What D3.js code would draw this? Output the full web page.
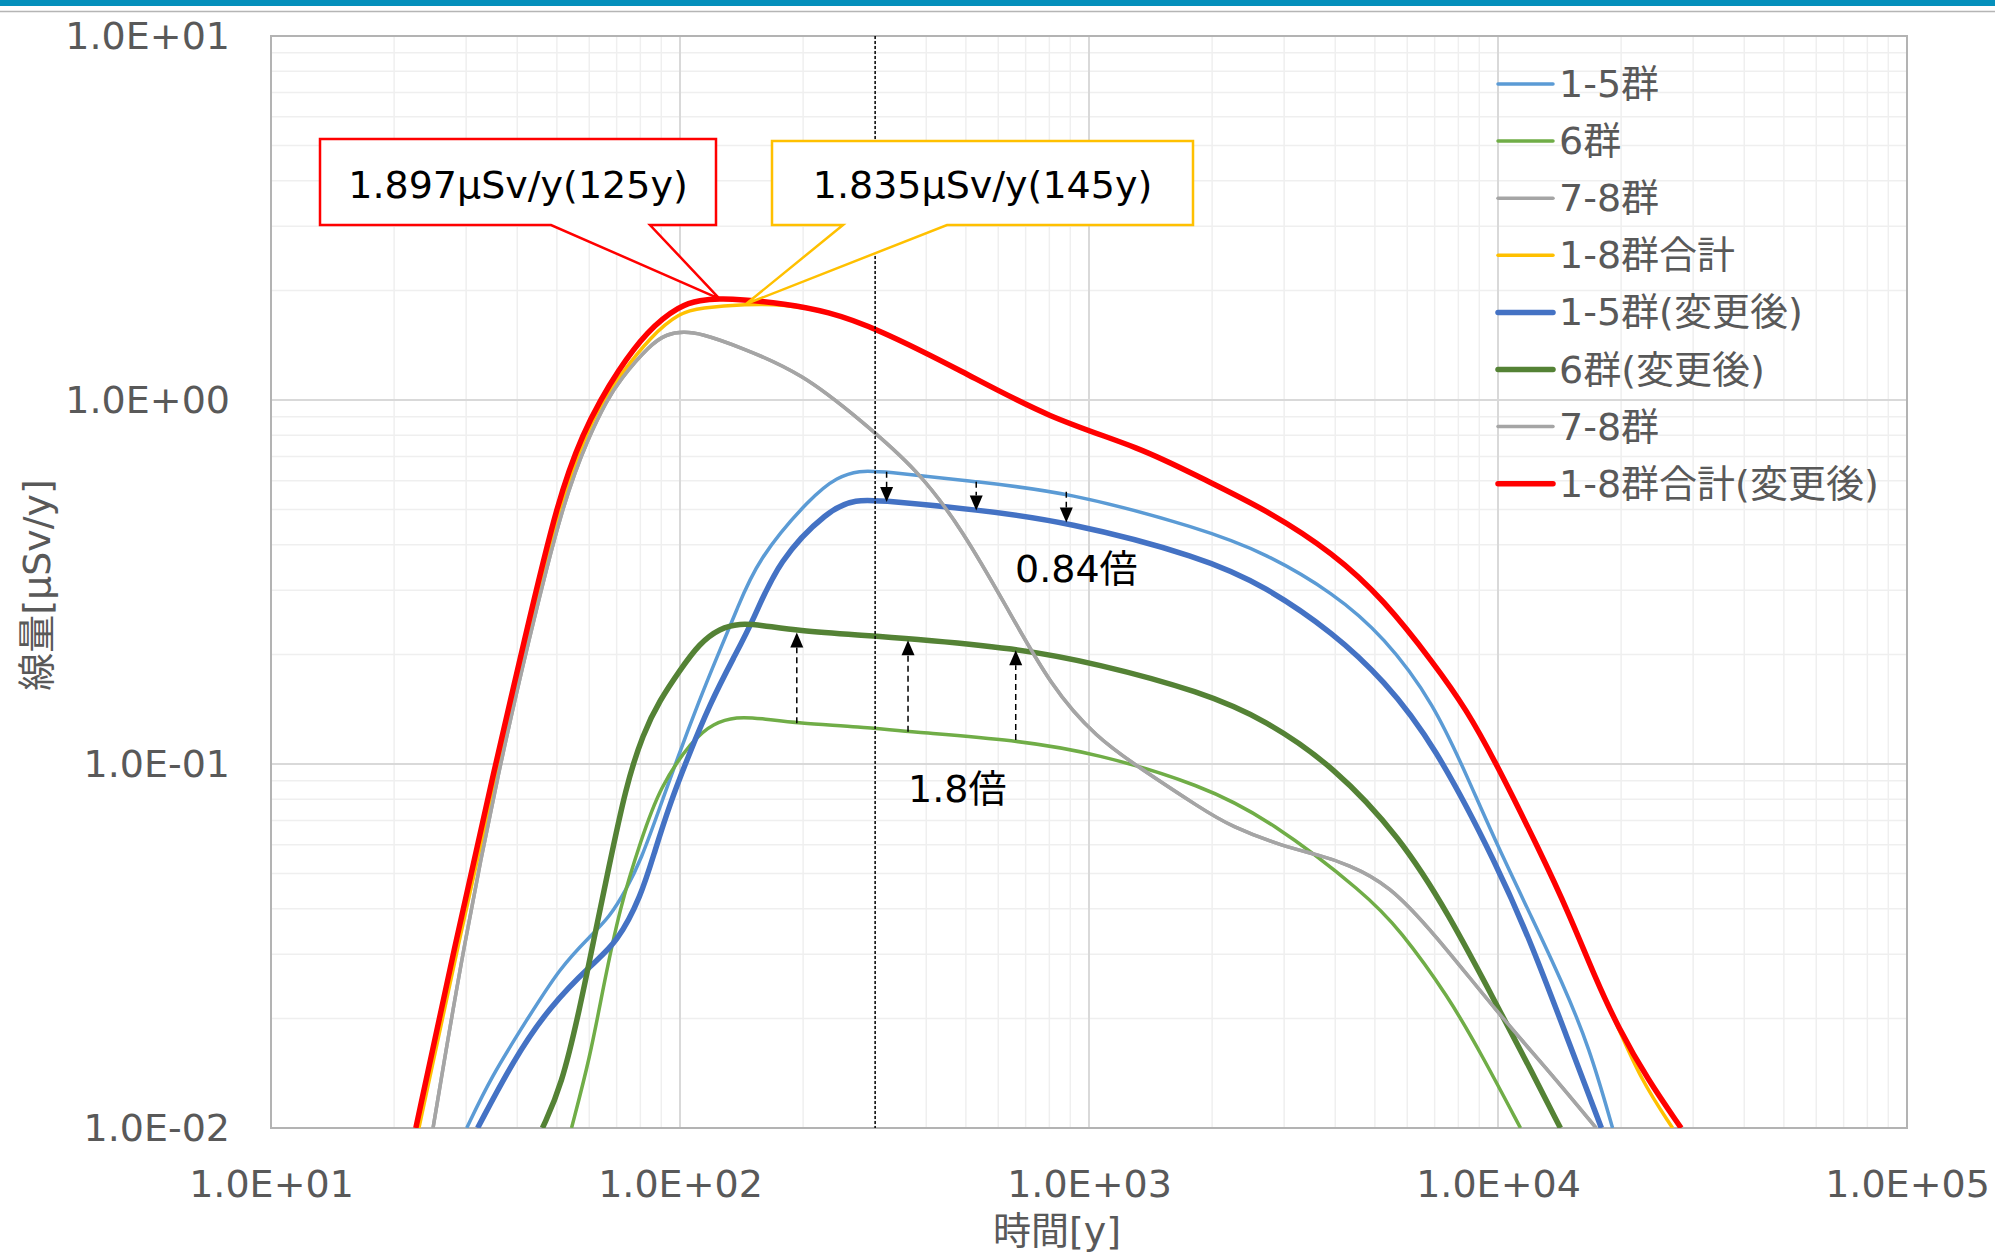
<!DOCTYPE html>
<html>
<head>
<meta charset="utf-8">
<script src="https://cdn.jsdelivr.net/npm/d3@7"></script>
<style>
  body { margin: 0; background: #fff; }
  svg { display: block; }
  text { font-family: "DejaVu Sans", "Noto Sans CJK JP", sans-serif; }
</style>
</head>
<body>
<script>
// [年, 線量 μSv/y]
const g15 = [[30.1,0.01],[34.5,0.0138],[42.2,0.0198],[51,0.0277],[60.3,0.0336],[67.4,0.0381],[73.7,0.045],[80.3,0.0545],[89.3,0.076],[98.2,0.1026],[111.6,0.15],[123.2,0.197],[137.7,0.265],[154.1,0.363],[209,0.542],[243,0.616],[275,0.64],[310,0.638],[530,0.596],[880,0.56],[1880,0.444],[2710,0.379],[3970,0.2945],[5260,0.224],[6970,0.147],[8480,0.0903],[9990,0.0593],[12150,0.0375],[14340,0.0252],[16720,0.0167],[19060,0.01]];
const g6 = [[54.3,0.01],[60.3,0.0157],[64.7,0.0239],[71.3,0.0405],[80.3,0.0618],[89.3,0.0867],[107.3,0.1164],[120.5,0.1294],[137.7,0.135],[156.9,0.1335],[194,0.1294],[275.6,0.1266],[361,0.1227],[662,0.1164],[1043,0.107],[1880,0.0876],[2770,0.0702],[4768,0.0438],[5760,0.035],[7560,0.023],[9180,0.0157],[11350,0.01]];
const g78 = [[24.9,0.01],[29.6,0.032],[36.3,0.1],[42.3,0.21],[51.6,0.52],[60,0.8],[66.4,1.0],[71,1.13],[84.5,1.42],[93,1.52],[102,1.54],[112,1.525],[140,1.4],[200,1.18],[276,0.881],[382,0.642],[490,0.44],[629,0.27],[808,0.163],[1043,0.118],[1340,0.097],[1880,0.0755],[2225,0.0673],[3000,0.0593],[3600,0.0565],[4300,0.053],[5410,0.0466],[6960,0.0344],[9990,0.0207],[13460,0.01413],[17380,0.01]];
const g18 = [[23.0,0.01],[28.7,0.032],[36,0.1],[42,0.21],[51,0.53],[59,0.81],[65,1.0],[71,1.16],[85,1.5],[100,1.74],[112,1.79],[145,1.835],[180,1.83],[230,1.75],[300,1.58],[490,1.2],[800,0.89],[1340,0.74],[1880,0.61],[2710,0.5],[3970,0.379],[5260,0.2825],[6970,0.189],[8390,0.1407],[9900,0.1005],[12670,0.0575],[14900,0.0389],[17380,0.0255],[19400,0.0196],[22360,0.01355],[26720,0.01]];
const g15b = [[32,0.01],[39.2,0.0154],[47.9,0.0215],[61.3,0.0284],[70,0.0322],[80.3,0.0432],[86.9,0.058],[94.6,0.078],[103.9,0.1026],[118.5,0.147],[135.6,0.197],[151.3,0.249],[174,0.363],[230.7,0.499],[268,0.534],[319,0.528],[530,0.5],[877,0.464],[1880,0.371],[2710,0.307],[3970,0.2287],[5260,0.17],[6970,0.114],[9990,0.0523],[12150,0.0315],[14620,0.0182],[17900,0.01]];
const g6b = [[46.1,0.01],[51.3,0.013],[57,0.0215],[61.3,0.0322],[66.8,0.0512],[73.7,0.0867],[81.2,0.1214],[89.3,0.15],[100,0.1812],[111.6,0.2146],[125.1,0.236],[140.1,0.2434],[156.9,0.241],[194,0.2323],[275.6,0.226],[361,0.2215],[662,0.208],[1043,0.189],[1880,0.158],[2710,0.132],[3970,0.0984],[5760,0.063],[7560,0.0389],[9990,0.0215],[12150,0.01413],[14210,0.01]];
const g78b = g78;
const g18b = [[22.6,0.01],[28.2,0.032],[35.4,0.1],[41.3,0.21],[50.3,0.54],[58.5,0.83],[64,1.0],[69.7,1.18],[83,1.55],[100,1.82],[112,1.88],[125,1.897],[140,1.89],[180,1.84],[230,1.75],[300,1.58],[490,1.2],[800,0.89],[1340,0.74],[1880,0.61],[2710,0.5],[3970,0.379],[5260,0.2825],[6970,0.189],[8390,0.1407],[9900,0.1005],[12670,0.0575],[14900,0.0389],[17380,0.0255],[19620,0.019],[23250,0.01355],[28040,0.01]];

const seriesNames = ["1-5群", "6群", "7-8群", "1-8群合計", "1-5群(変更後)", "6群(変更後)", "7-8群", "1-8群合計(変更後)"];
const seriesData = [g15, g6, g78, g18, g15b, g6b, g78b, g18b];

const xTicks = [1e1, 1e2, 1e3, 1e4, 1e5];
const xTickLabels = ["1.0E+01", "1.0E+02", "1.0E+03", "1.0E+04", "1.0E+05"];
const yTicks = [1e-2, 1e-1, 1e0, 1e1];
const yTickLabels = ["1.0E-02", "1.0E-01", "1.0E+00", "1.0E+01"];

const peakTexts = ["1.897μSv/y(125y)", "1.835μSv/y(145y)"];
const peakPoints = [[125, 1.897], [145, 1.835]];
const markYear = 300;
const downArrowYears = [320, 530, 880];
const upArrowYears = [193, 361, 662];
const ratioTexts = ["0.84倍", "1.8倍"];

// 見た目
const colors = ["#5B9BD5", "#70AD47", "#A5A5A5", "#FFC000", "#4472C4", "#548235", "#A5A5A5", "#FF0000"];
const widths = [3.5, 3.5, 3.5, 3.5, 5.5, 5.5, 3.5, 5.5];

const width = 1995;
const height = 1254;
const plot = { left: 271, right: 1907, top: 36, bottom: 1128 };
const tickColor = "#595959";

const svg = d3.select("body").append("svg").attr("width", width).attr("height", height);

svg.append("rect").attr("x", 0).attr("y", 0).attr("width", width).attr("height", 6).attr("fill", "#0590bc");
svg.append("line").attr("x1", 0).attr("x2", width).attr("y1", 11.5).attr("y2", 11.5)
  .attr("stroke", "#b5b5b5").attr("stroke-width", 1.5);

const x = d3.scaleLog().domain([10, 1e5]).range([plot.left, plot.right]);
const y = d3.scaleLog().domain([0.01, 10]).range([plot.bottom, plot.top]);

const isMajor = (v) => Math.abs(Math.log10(v) - Math.round(Math.log10(v))) < 1e-9;

// グリッド
const grid = svg.append("g");
const xAll = x.ticks();
const yAll = y.ticks();
grid.selectAll(".vminor").data(xAll.filter((d) => !isMajor(d))).join("line")
  .attr("x1", (d) => x(d)).attr("x2", (d) => x(d)).attr("y1", plot.top).attr("y2", plot.bottom)
  .attr("stroke", "#efefef").attr("stroke-width", 1.5);
grid.selectAll(".hminor").data(yAll.filter((d) => !isMajor(d))).join("line")
  .attr("y1", (d) => y(d)).attr("y2", (d) => y(d)).attr("x1", plot.left).attr("x2", plot.right)
  .attr("stroke", "#efefef").attr("stroke-width", 1.5);
grid.selectAll(".vmajor").data(xTicks).join("line")
  .attr("x1", (d) => x(d)).attr("x2", (d) => x(d)).attr("y1", plot.top).attr("y2", plot.bottom)
  .attr("stroke", "#d9d9d9").attr("stroke-width", 2);
grid.selectAll(".hmajor").data(yTicks).join("line")
  .attr("y1", (d) => y(d)).attr("y2", (d) => y(d)).attr("x1", plot.left).attr("x2", plot.right)
  .attr("stroke", "#d9d9d9").attr("stroke-width", 2);

svg.append("rect")
  .attr("x", plot.left).attr("y", plot.top)
  .attr("width", plot.right - plot.left).attr("height", plot.bottom - plot.top)
  .attr("fill", "none").attr("stroke", "#b3b3b3").attr("stroke-width", 2);

// 軸
const xAxis = svg.append("g")
  .attr("transform", `translate(0,${plot.bottom})`)
  .call(d3.axisBottom(x).tickValues(xTicks).tickFormat((d, i) => xTickLabels[i]).tickSize(0).tickPadding(42));
const yAxis = svg.append("g")
  .attr("transform", `translate(${plot.left},0)`)
  .call(d3.axisLeft(y).tickValues(yTicks).tickFormat((d, i) => yTickLabels[i]).tickSize(0).tickPadding(41));
[xAxis, yAxis].forEach((g) => {
  g.select(".domain").remove();
  g.attr("font-family", null).attr("font-size", 38);
  g.selectAll("text").attr("fill", tickColor);
});

svg.append("text")
  .attr("x", 1057).attr("y", 1244)
  .attr("text-anchor", "middle").attr("font-size", 38).attr("fill", tickColor)
  .text("時間[y]");
svg.append("text")
  .attr("transform", "translate(37,585) rotate(-90)")
  .attr("text-anchor", "middle").attr("dominant-baseline", "central")
  .attr("font-size", 38).attr("fill", tickColor)
  .text("線量[μSv/y]");

// 系列
svg.append("clipPath").attr("id", "clip").append("rect")
  .attr("x", plot.left).attr("y", plot.top)
  .attr("width", plot.right - plot.left).attr("height", plot.bottom - plot.top);

const line = d3.line()
  .x((d) => x(d[0]))
  .y((d) => y(d[1]))
  .curve(d3.curveBasis);

svg.append("g").attr("clip-path", "url(#clip)")
  .selectAll("path").data(seriesData).join("path")
  .attr("d", line)
  .attr("fill", "none")
  .attr("stroke", (d, i) => colors[i])
  .attr("stroke-width", (d, i) => widths[i])
  .attr("stroke-linejoin", "round");

// 300年の破線
svg.append("line")
  .attr("x1", x(markYear)).attr("x2", x(markYear))
  .attr("y1", plot.top).attr("y2", plot.bottom)
  .attr("stroke", "#000").attr("stroke-width", 1.5).attr("stroke-dasharray", "3,2");

// 吹き出し
const boxes = [
  { x0: 320, x1: 716, y0: 139, y1: 225, b0: 551, b1: 650, color: "#FF0000" },
  { x0: 772, x1: 1193, y0: 141, y1: 225, b0: 843, b1: 947, color: "#FFC000" },
];
boxes.forEach((b, i) => {
  const tx = x(peakPoints[i][0]);
  const ty = y(peakPoints[i][1]);
  svg.append("path")
    .attr("d", `M${b.x0},${b.y0}H${b.x1}V${b.y1}H${b.b1}L${tx},${ty}L${b.b0},${b.y1}H${b.x0}Z`)
    .attr("fill", "#fff").attr("stroke", b.color).attr("stroke-width", 2.5);
  svg.append("text")
    .attr("x", (b.x0 + b.x1) / 2).attr("y", 198)
    .attr("text-anchor", "middle").attr("font-size", 38).attr("fill", "#000")
    .text(peakTexts[i]);
});

// 倍率の矢印
function doseAt(data, t) {
  const lt = Math.log10(t);
  for (let i = 1; i < data.length; i++) {
    const a = data[i - 1];
    const b = data[i];
    if (t <= b[0]) {
      const f = (lt - Math.log10(a[0])) / (Math.log10(b[0]) - Math.log10(a[0]));
      return 10 ** (Math.log10(a[1]) + f * (Math.log10(b[1]) - Math.log10(a[1])));
    }
  }
  return data[data.length - 1][1];
}

function arrow(t, from, to, dir) {
  const ax = x(t);
  const y0 = y(doseAt(from, t));
  const tip = y(doseAt(to, t)) + (dir < 0 ? 2 : 1);
  const head = 15;
  svg.append("line")
    .attr("x1", ax).attr("x2", ax).attr("y1", y0).attr("y2", tip - dir * head)
    .attr("stroke", "#000").attr("stroke-width", 1.5).attr("stroke-dasharray", "6,4");
  svg.append("path")
    .attr("d", `M${ax},${tip}L${ax - 6.5},${tip - dir * head}L${ax + 6.5},${tip - dir * head}Z`)
    .attr("fill", "#000");
}
downArrowYears.forEach((t) => arrow(t, g15, g15b, 1));
upArrowYears.forEach((t) => arrow(t, g6, g6b, -1));

svg.append("text").attr("x", 1015).attr("y", 582).attr("font-size", 38).attr("fill", "#000").text(ratioTexts[0]);
svg.append("text").attr("x", 908).attr("y", 802).attr("font-size", 38).attr("fill", "#000").text(ratioTexts[1]);

// 凡例
const legend = svg.append("g");
const items = legend.selectAll("g").data(seriesNames).join("g")
  .attr("transform", (d, i) => `translate(1498,${84 + i * 57.1})`);
items.append("line")
  .attr("x1", 0).attr("x2", 55)
  .attr("stroke", (d, i) => colors[i])
  .attr("stroke-width", (d, i) => widths[i])
  .attr("stroke-linecap", "round");
items.append("text")
  .attr("x", 61).attr("dominant-baseline", "central")
  .attr("font-size", 38).attr("fill", tickColor)
  .text((d) => d);
</script>
</body>
</html>
